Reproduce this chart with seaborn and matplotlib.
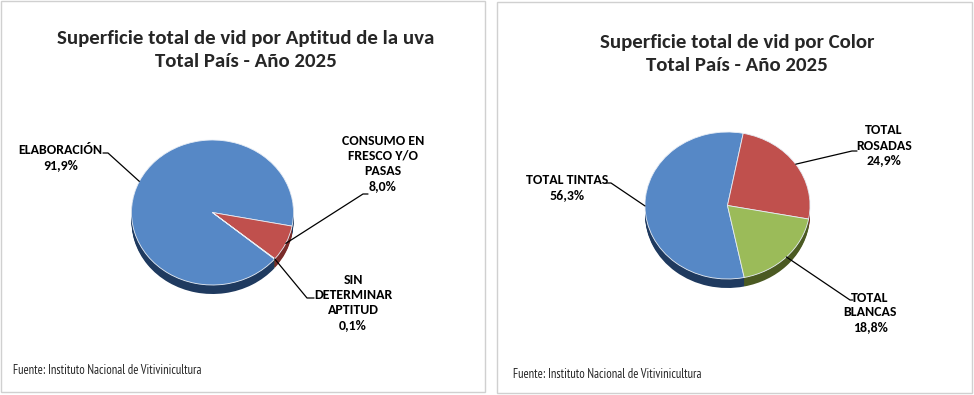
import numpy as np
import matplotlib
matplotlib.use("Agg")
import matplotlib.pyplot as plt
from matplotlib.patches import Rectangle
from matplotlib.lines import Line2D
import seaborn as sns

# data
aptitud_labels = ["ELABORACIÓN", "CONSUMO EN\nFRESCO Y/O\nPASAS", "SIN\nDETERMINAR\nAPTITUD"]
aptitud_values = [91.9, 8.0, 0.1]
color_labels = ["TOTAL TINTAS", "TOTAL\nROSADAS", "TOTAL\nBLANCAS"]
color_values = [56.3, 24.9, 18.8]

top_colors = ["#5688C6", "#C0504D", "#9BBB59"]
side_colors = ["#1F3A5F", "#7A2C2A", "#4B5A22"]

W, H = 974, 395
sns.set_theme(style="white")
plt.rcParams['font.family'] = ['Carlito', 'DejaVu Sans']
SOURCE_FONT = ["PT Sans Narrow", "DejaVu Sans"]

fig = plt.figure(figsize=(W / 100, H / 100), dpi=100)
fig.patch.set_facecolor("white")


def fx(x, y):
    return x / W, 1 - y / H


def add_frame(x0, y0, x1, y1):
    fig.add_artist(Rectangle(fx(x0, y1), (x1 - x0) / W, (y1 - y0) / H,
                             transform=fig.transFigure, fill=False,
                             edgecolor="#D0D0D0", linewidth=1.0))


def draw_pie(values, cx, cy, rx, ry, startangle, depth=9):
    m = 1.3
    l, b = fx(cx - m * rx, cy + m * ry)
    ax = fig.add_axes([l, b, 2 * m * rx / W, 2 * m * ry / H])
    steps = np.linspace(depth / ry, 0, depth + 1)
    for d in steps[:-1]:
        ax.pie(values, colors=side_colors, startangle=startangle, counterclock=False,
               center=(0, -d), wedgeprops=dict(linewidth=0))
    wedges, _ = ax.pie(values, colors=top_colors, startangle=startangle, counterclock=False,
                       wedgeprops=dict(edgecolor="#E8EEF6", linewidth=0.6))
    ax.set_aspect("auto")
    ax.set_xlim(-m, m)
    ax.set_ylim(-m, m)
    ax.axis("off")
    return ax, wedges


def leader(ax, wedge, pts):
    th = np.deg2rad((wedge.theta1 + wedge.theta2) / 2)
    disp = ax.transData.transform((np.cos(th), np.sin(th)))
    ex, ey = fig.transFigure.inverted().transform(disp)
    xs = [ex] + [fx(*p)[0] for p in pts]
    ys = [ey] + [fx(*p)[1] for p in pts]
    fig.add_artist(Line2D(xs, ys, transform=fig.transFigure, color="black", linewidth=0.9))


def label(x, y, txt):
    fig.text(*fx(x, y), txt, ha="center", va="center", fontsize=10, fontweight="bold",
             linespacing=1.3, multialignment="center", color="black")


def pct(v):
    return f"{v:.1f}".replace(".", ",") + "%"


# frames
add_frame(1, 1, 485, 392)
add_frame(497, 2, 972, 393)

# left panel
fig.text(*fx(245.5, 50), "Superficie total de vid por Aptitud de la uva\nTotal País - Año 2025",
         ha="center", va="center", fontsize=15, fontweight="bold", linespacing=1.4)
axl, wl = draw_pie(aptitud_values, 212.5, 212.5, 81, 72.5, startangle=-40)
leader(axl, wl[0], [(108, 153), (103, 153)])
leader(axl, wl[1], [(363, 194), (368, 194)])
leader(axl, wl[2], [(307, 298), (314, 298)])
label(60.5, 158, f"{aptitud_labels[0]}\n{pct(aptitud_values[0])}")
label(383, 163.5, f"{aptitud_labels[1]}\n{pct(aptitud_values[1])}")
label(353, 302.5, f"{aptitud_labels[2]}\n{pct(aptitud_values[2])}")
fig.text(*fx(13, 371), "Fuente: Instituto Nacional de Vitivinicultura", ha="left", va="center",
         fontsize=9, family=SOURCE_FONT)

# right panel
fig.text(*fx(737, 54), "Superficie total de vid por Color\nTotal País - Año 2025",
         ha="center", va="center", fontsize=15, fontweight="bold", linespacing=1.4)
axr, wr = draw_pie(color_values, 727.5, 205.5, 82.5, 73.5, startangle=-78.3)
leader(axr, wr[0], [(611, 183), (606, 183)])
leader(axr, wr[1], [(852, 151), (857, 151)])
leader(axr, wr[2], [(850, 300), (853, 300)])
label(566.7, 187.5, f"{color_labels[0]}\n{pct(color_values[0])}")
label(884, 145.5, f"{color_labels[1]}\n{pct(color_values[1])}")
label(870, 312.5, f"{color_labels[2]}\n{pct(color_values[2])}")
fig.text(*fx(513, 374), "Fuente: Instituto Nacional de Vitivinicultura", ha="left", va="center",
         fontsize=9, family=SOURCE_FONT)

fig.savefig("out.png", dpi=100, facecolor="white")
